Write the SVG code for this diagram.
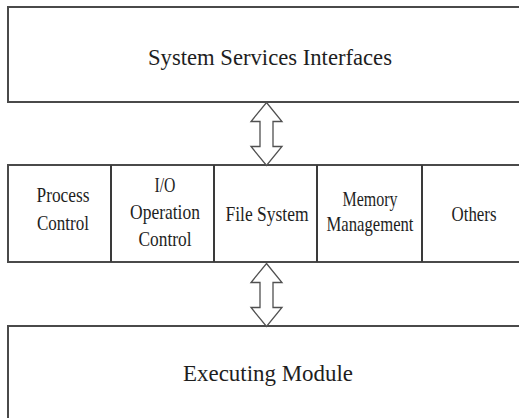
<svg xmlns="http://www.w3.org/2000/svg" width="519" height="418" viewBox="0 0 519 418">
  <style>
    .box { fill: #ffffff; stroke: #4a4a4a; stroke-width: 2; }
    .div { stroke: #3a3a3a; stroke-width: 2; }
    .arrow { fill: #ffffff; stroke: #505050; stroke-width: 1.3; stroke-linejoin: miter; }
    text { fill: #1e1e1e; text-anchor: middle; }
    .big { font-size: 23px; }
    .small { font-size: 21px; }
  </style>
  <defs>
    <!-- double-headed block arrow, tip-to-tip 63px, centred on x=0 -->
    <polygon id="dblArrow" class="arrow" points="0,0 15.5,19 6.5,19 6.5,44 15.5,44 0,63 -15.5,44 -6.5,44 -6.5,19 -15.5,19"/>
  </defs>
  <rect width="519" height="418" fill="#ffffff"/>

  <g font-family="'Liberation Serif', 'DejaVu Serif', serif">
    <g id="system-services-interfaces">
      <rect class="box" x="8" y="7" width="520" height="95"/>
      <text class="big" x="270" y="65" textLength="244" lengthAdjust="spacingAndGlyphs">System Services Interfaces</text>
    </g>

    <g id="kernel-modules">
      <rect class="box" x="8" y="165" width="520" height="97"/>
      <line class="div" x1="111" y1="165" x2="111" y2="262"/>
      <line class="div" x1="214" y1="165" x2="214" y2="262"/>
      <line class="div" x1="317" y1="165" x2="317" y2="262"/>
      <line class="div" x1="422" y1="165" x2="422" y2="262"/>
    </g>

    <g id="process-control">
      <text class="small" x="63" y="202" textLength="53" lengthAdjust="spacingAndGlyphs">Process</text>
      <text class="small" x="63" y="230" textLength="52" lengthAdjust="spacingAndGlyphs">Control</text>
    </g>
    <g id="io-operation-control">
      <text class="small" x="165" y="192" textLength="21" lengthAdjust="spacingAndGlyphs">I/O</text>
      <text class="small" x="165" y="219" textLength="70" lengthAdjust="spacingAndGlyphs">Operation</text>
      <text class="small" x="165" y="246" textLength="53" lengthAdjust="spacingAndGlyphs">Control</text>
    </g>
    <g id="file-system">
      <text class="small" x="267" y="221" textLength="83" lengthAdjust="spacingAndGlyphs">File System</text>
    </g>
    <g id="memory-management">
      <text class="small" x="370" y="206" textLength="55" lengthAdjust="spacingAndGlyphs">Memory</text>
      <text class="small" x="370" y="231" textLength="87" lengthAdjust="spacingAndGlyphs">Management</text>
    </g>
    <g id="others">
      <text class="small" x="474" y="221" textLength="45" lengthAdjust="spacingAndGlyphs">Others</text>
    </g>

    <g id="executing-module">
      <rect class="box" x="8" y="326" width="520" height="110"/>
      <text class="big" x="268" y="381" textLength="170" lengthAdjust="spacingAndGlyphs">Executing Module</text>
    </g>
  </g>

  <g id="connectors">
    <use href="#dblArrow" x="266.5" y="102.5"/>
    <use href="#dblArrow" x="266.5" y="263.5"/>
  </g>
</svg>
